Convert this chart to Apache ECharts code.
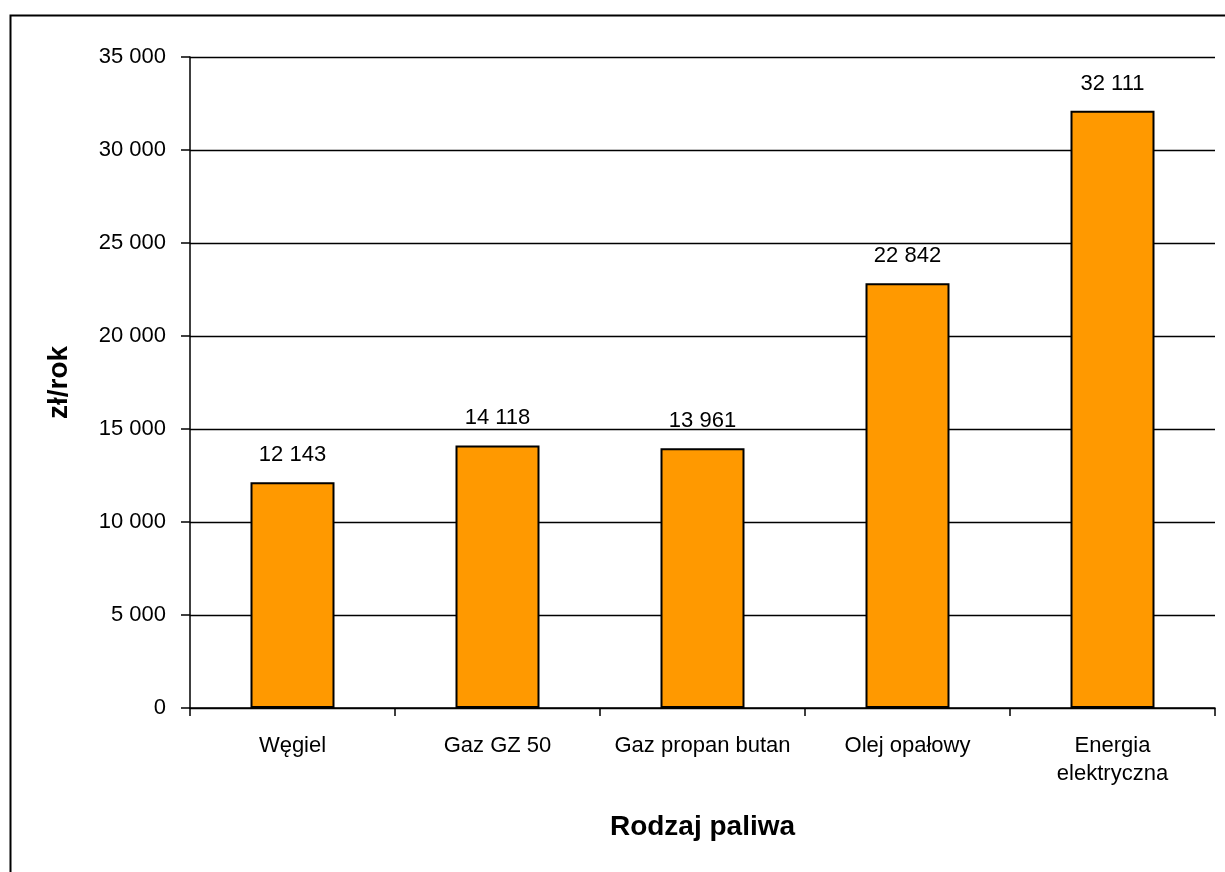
<!DOCTYPE html>
<html>
<head>
<meta charset="utf-8">
<script src="https://cdn.jsdelivr.net/npm/echarts@6/dist/echarts.min.js"></script>
<style>
  html, body { margin: 0; padding: 0; background: #fff; }
  #chart { width: 1225px; height: 872px; }
</style>
</head>
<body>
<div id="chart"></div>
<script>
// dane
const categories = ['Węgiel', 'Gaz GZ 50', 'Gaz propan butan', 'Olej opałowy', 'Energia\nelektryczna']
const costs = [12143, 14118, 13961, 22842, 32111]
const yTicks = [0, 5000, 10000, 15000, 20000, 25000, 30000, 35000]

const fmt = v => String(v).replace(/\B(?=(\d{3})+(?!\d))/g, ' ')
const font = '"Liberation Sans", Arial, sans-serif'

const chart = echarts.init(document.getElementById('chart'))

chart.setOption({
  animation: false,
  backgroundColor: '#fff',
  textStyle: { fontFamily: font },
  graphic: [{
    type: 'rect',
    left: 8, top: 13,
    shape: { width: 1400, height: 1000 },
    style: { fill: 'none', stroke: '#000', lineWidth: 2 },
    silent: true
  }],
  grid: { left: 190, right: 10, top: 57, bottom: 164 },
  xAxis: {
    type: 'category',
    data: categories,
    name: 'Rodzaj paliwa',
    nameLocation: 'middle',
    nameGap: 105,
    nameTextStyle: { fontSize: 28, fontWeight: 'bold', color: '#000', fontFamily: font },
    axisLine: { lineStyle: { color: '#000', width: 1.5 } },
    axisTick: { show: true, length: 8, lineStyle: { color: '#000', width: 1.5 } },
    axisLabel: { fontSize: 22, color: '#000', margin: 24, lineHeight: 28, fontFamily: font, interval: 0 }
  },
  yAxis: {
    type: 'value',
    min: yTicks[0],
    max: yTicks[yTicks.length - 1],
    interval: 5000,
    name: 'zł/rok',
    nameLocation: 'middle',
    nameGap: 117,
    nameTextStyle: { fontSize: 28, fontWeight: 'bold', color: '#000', fontFamily: font },
    axisLine: { show: true, lineStyle: { color: '#000', width: 1.5 } },
    axisTick: { show: true, length: 9, lineStyle: { color: '#000', width: 1.5 } },
    axisLabel: { fontSize: 22, color: '#000', margin: 24, formatter: fmt, fontFamily: font },
    splitLine: { lineStyle: { color: '#000', width: 1.3 } }
  },
  series: [{
    type: 'bar',
    data: costs,
    barWidth: 84,
    itemStyle: { color: '#FF9900', borderColor: '#000', borderWidth: 2 },
    label: {
      show: true,
      position: 'top',
      distance: 16,
      fontSize: 22,
      color: '#000',
      fontFamily: font,
      formatter: p => fmt(p.value)
    }
  }]
})
</script>
</body>
</html>
